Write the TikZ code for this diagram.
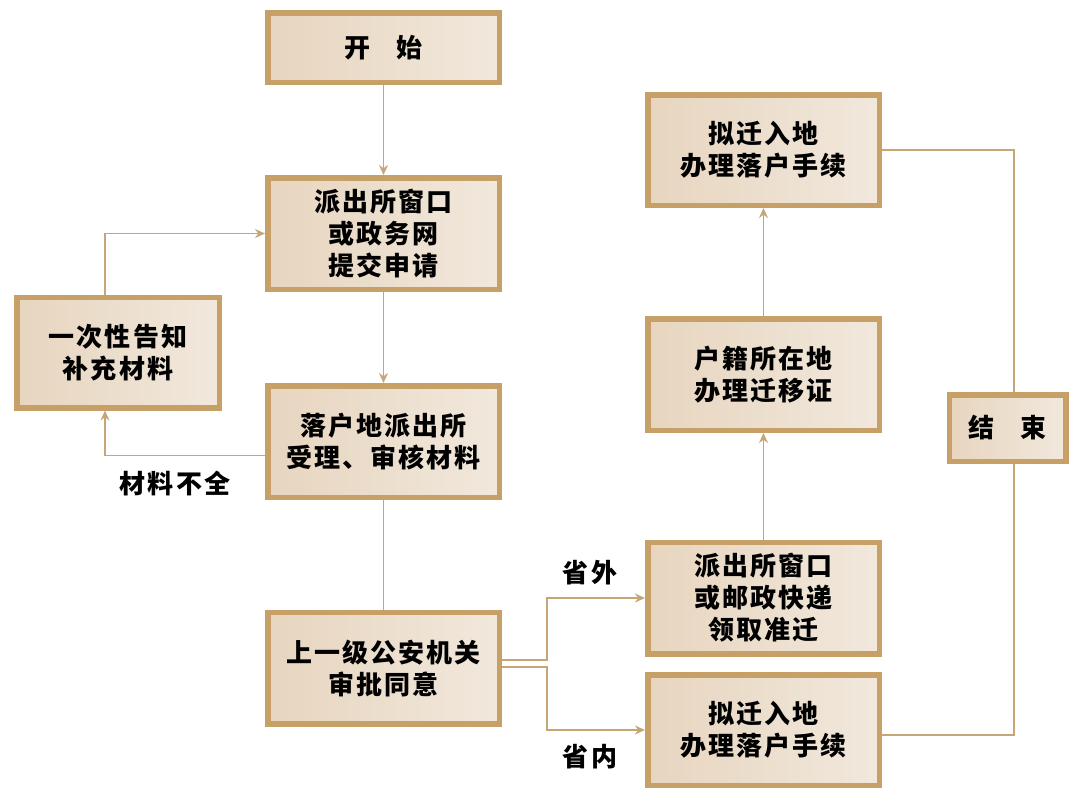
\documentclass[tikz,border=0pt]{standalone}
\usepackage{fontspec}
\setmainfont{Noto Sans CJK SC}[LetterSpace=8, BoldFont={Noto Sans CJK SC Black}]
\usetikzlibrary{arrows.meta,calc}
\definecolor{bord}{HTML}{C6A067}
\definecolor{lineC}{HTML}{C6A676}
\definecolor{fillA}{HTML}{E7D5BF}
\definecolor{fillB}{HTML}{F1E8DC}
\tikzset{
 box/.style={draw=bord, line width=5.5pt, left color=fillA, right color=fillB, align=center,
   font=\fontsize{26}{32}\selectfont\bfseries, inner sep=0pt,
   minimum width=231.5pt, minimum height=111.5pt},
 conn/.style={draw=lineC, line width=1.8pt},
 arr/.style={conn, -{Stealth[length=10pt,width=9pt]}},
 lbl/.style={font=\fontsize{26}{30}\selectfont\bfseries}
}
\begin{document}
\begin{tikzpicture}[x=1pt,y=-1pt]
\useasboundingbox (0,0) rectangle (1080,811);
\node[box, minimum height=69.5pt] (start) at (383.5,47.5) {开\hspace{1em}始};
\node[box] (apply) at (383.5,233.5) {派出所窗口\\或政务网\\提交申请};
\node[box, minimum width=202.5pt, minimum height=110.5pt] (notify) at (118,352.5) {一次性告知\\补充材料};
\node[box] (accept) at (383.5,441.5) {落户地派出所\\受理、审核材料};
\node[box] (approve) at (383.5,668) {上一级公安机关\\审批同意};
\node[box] (out) at (763.5,598) {派出所窗口\\或邮政快递\\领取准迁};
\node[box, minimum height=110.5pt] (inprov) at (763.5,730) {拟迁入地\\办理落户手续};
\node[box] (huji) at (763.5,374.5) {户籍所在地\\办理迁移证};
\node[box, minimum height=110.5pt] (settle) at (763.5,150) {拟迁入地\\办理落户手续};
\node[box, minimum width=116.5pt, minimum height=66.5pt] (end) at (1007.5,428) {结\hspace{1em}束};

\node[lbl] (lack) at (175,483) {材料不全};
\node[lbl] (outlbl) at (590,573) {省外};
\node[lbl] (inlbl) at (590,757) {省内};

\coordinate (nx) at (105,0);
\coordinate (ex) at (1014,0);

\draw[arr] (start) -- (apply);
\draw[arr] (apply) -- (accept);
\draw[conn] (accept) -- (approve);
\draw[arr] ($(accept.west)+(0,14)$) -| (notify.south -| nx);
\draw[arr] (notify.north -| nx) |- (apply.west);
\draw[arr] ($(approve.east)+(0,-8)$) -- ++(45,0) |- (out.west);
\draw[arr] ($(approve.east)+(0,-1)$) -- ++(45,0) |- (inprov.west);
\draw[arr] (out) -- (huji);
\draw[arr] (huji) -- (settle);
\draw[conn] (settle.east) -| (end.north -| ex);
\draw[conn] ($(inprov.east)+(0,5)$) -| (end.south -| ex);
\end{tikzpicture}
\end{document}
